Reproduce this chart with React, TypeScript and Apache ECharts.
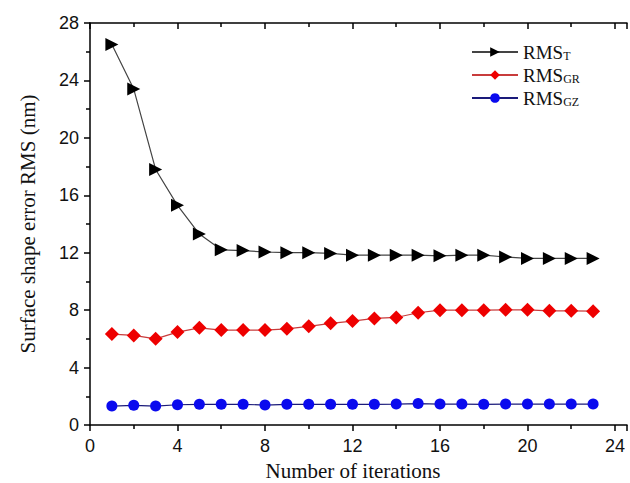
import React, { useEffect, useRef } from "react";
import * as echarts from "echarts";

const iterations = [1, 2, 3, 4, 5, 6, 7, 8, 9, 10, 11, 12, 13, 14, 15, 16, 17, 18, 19, 20, 21, 22, 23];
const rmsT = [26.5, 23.4, 17.8, 15.3, 13.3, 12.2, 12.15, 12.05, 12.0, 12.0, 11.95, 11.83, 11.83, 11.83, 11.83, 11.78, 11.83, 11.83, 11.7, 11.6, 11.6, 11.6, 11.6];
const rmsGR = [6.33, 6.24, 6.0, 6.47, 6.77, 6.61, 6.61, 6.61, 6.7, 6.87, 7.08, 7.24, 7.42, 7.49, 7.82, 8.0, 8.0, 8.0, 8.02, 8.02, 7.95, 7.95, 7.93];
const rmsGZ = [1.32, 1.37, 1.32, 1.41, 1.44, 1.44, 1.44, 1.39, 1.44, 1.44, 1.44, 1.44, 1.44, 1.46, 1.49, 1.46, 1.46, 1.44, 1.46, 1.46, 1.46, 1.46, 1.46];
const seriesNames = ["RMS_T", "RMS_GR", "RMS_GZ"];
const subscripts = ["T", "GR", "GZ"];
const xTitle = "Number of iterations";
const yTitle = "Surface shape error RMS (nm)";

const pairs = (ys: number[]) => iterations.map((x, i) => [x, ys[i]]);

export default function App() {
  const ref = useRef<HTMLDivElement>(null);
  useEffect(() => {
    if (!ref.current) return;
    const chart = echarts.init(ref.current, null, { renderer: "svg" });
    const axisFont = "'Liberation Sans', Arial, sans-serif";
    const serif = "'Liberation Serif', 'Times New Roman', serif";
    const tickLabel = (v: number) => (Math.abs(v % 4) < 1e-9 ? String(v) : "");
    const baseX = {
      type: "value" as const,
      min: 0,
      max: 24.55,
      interval: 4,
      splitLine: { show: false },
    };
    chart.setOption({
      animation: false,
      backgroundColor: "#ffffff",
      grid: { left: 90, right: 0, top: 23, bottom: 58 },
      legend: {
        orient: "vertical",
        left: 466,
        top: 38,
        itemWidth: 46,
        itemHeight: 12,
        itemGap: 4,
        data: seriesNames,
        formatter: (name: string) => {
          const i = seriesNames.indexOf(name);
          return `{a|RMS}{b|${subscripts[i]}}`;
        },
        textStyle: {
          rich: {
            a: { fontFamily: serif, fontSize: 19, color: "#111", lineHeight: 20, verticalAlign: "bottom" },
            b: { fontFamily: serif, fontSize: 12, color: "#111", lineHeight: 20, verticalAlign: "bottom" },
          },
        },
      },
      xAxis: [
        {
          ...baseX,
          position: "bottom",
          axisLine: { show: true, lineStyle: { color: "#000", width: 1.5 } },
          axisTick: { show: true, inside: false, length: 6, lineStyle: { color: "#000", width: 1.5 } },
          minorTick: { show: true, splitNumber: 2, length: 4, lineStyle: { color: "#000", width: 1.5 } },
          axisLabel: { formatter: tickLabel, fontFamily: axisFont, fontSize: 18, color: "#111", margin: 12 },
        },
        {
          ...baseX,
          position: "top",
          axisLine: { show: true, lineStyle: { color: "#000", width: 1.5 } },
          axisTick: { show: true, inside: true, length: 6, lineStyle: { color: "#000", width: 1.5 } },
          minorTick: { show: true, splitNumber: 2, length: 4, lineStyle: { color: "#000", width: 1.5 } },
          axisLabel: { show: false },
        },
      ],
      yAxis: {
        type: "value",
        min: 0,
        max: 28,
        interval: 4,
        splitLine: { show: false },
        axisLine: { show: true, lineStyle: { color: "#000", width: 1.5 } },
        axisTick: { show: true, inside: false, length: 6, lineStyle: { color: "#000", width: 1.5 } },
        minorTick: { show: true, splitNumber: 2, length: 4, lineStyle: { color: "#000", width: 1.5 } },
        axisLabel: { fontFamily: axisFont, fontSize: 18, color: "#111", margin: 11 },
      },
      graphic: [
        {
          type: "text",
          x: 28,
          y: 224,
          rotation: Math.PI / 2,
          style: {
            text: yTitle,
            fontFamily: serif,
            fontSize: 21,
            fill: "#111",
            align: "center",
            verticalAlign: "middle",
          },
        },
        {
          type: "text",
          x: 353,
          y: 471,
          style: {
            text: xTitle,
            fontFamily: serif,
            fontSize: 21,
            fill: "#111",
            align: "center",
            verticalAlign: "middle",
          },
        },
      ],
      series: [
        {
          name: seriesNames[0],
          type: "line",
          data: pairs(rmsT),
          symbol: "triangle",
          symbolRotate: -90,
          symbolSize: 13,
          itemStyle: { color: "#000" },
          lineStyle: { color: "#444", width: 1.2 },
        },
        {
          name: seriesNames[1],
          type: "line",
          data: pairs(rmsGR),
          symbol: "diamond",
          symbolSize: 14,
          itemStyle: { color: "#ee0000" },
          lineStyle: { color: "#c83c3c", width: 1.2 },
        },
        {
          name: seriesNames[2],
          type: "line",
          data: pairs(rmsGZ),
          symbol: "circle",
          symbolSize: 11,
          itemStyle: { color: "#0a0aee" },
          lineStyle: { color: "#1a1a7a", width: 1.2 },
        },
      ],
    });
    return () => chart.dispose();
  }, []);
  return <div ref={ref} style={{ position: "fixed", left: 0, top: 0, width: 630, height: 483 }} />;
}
